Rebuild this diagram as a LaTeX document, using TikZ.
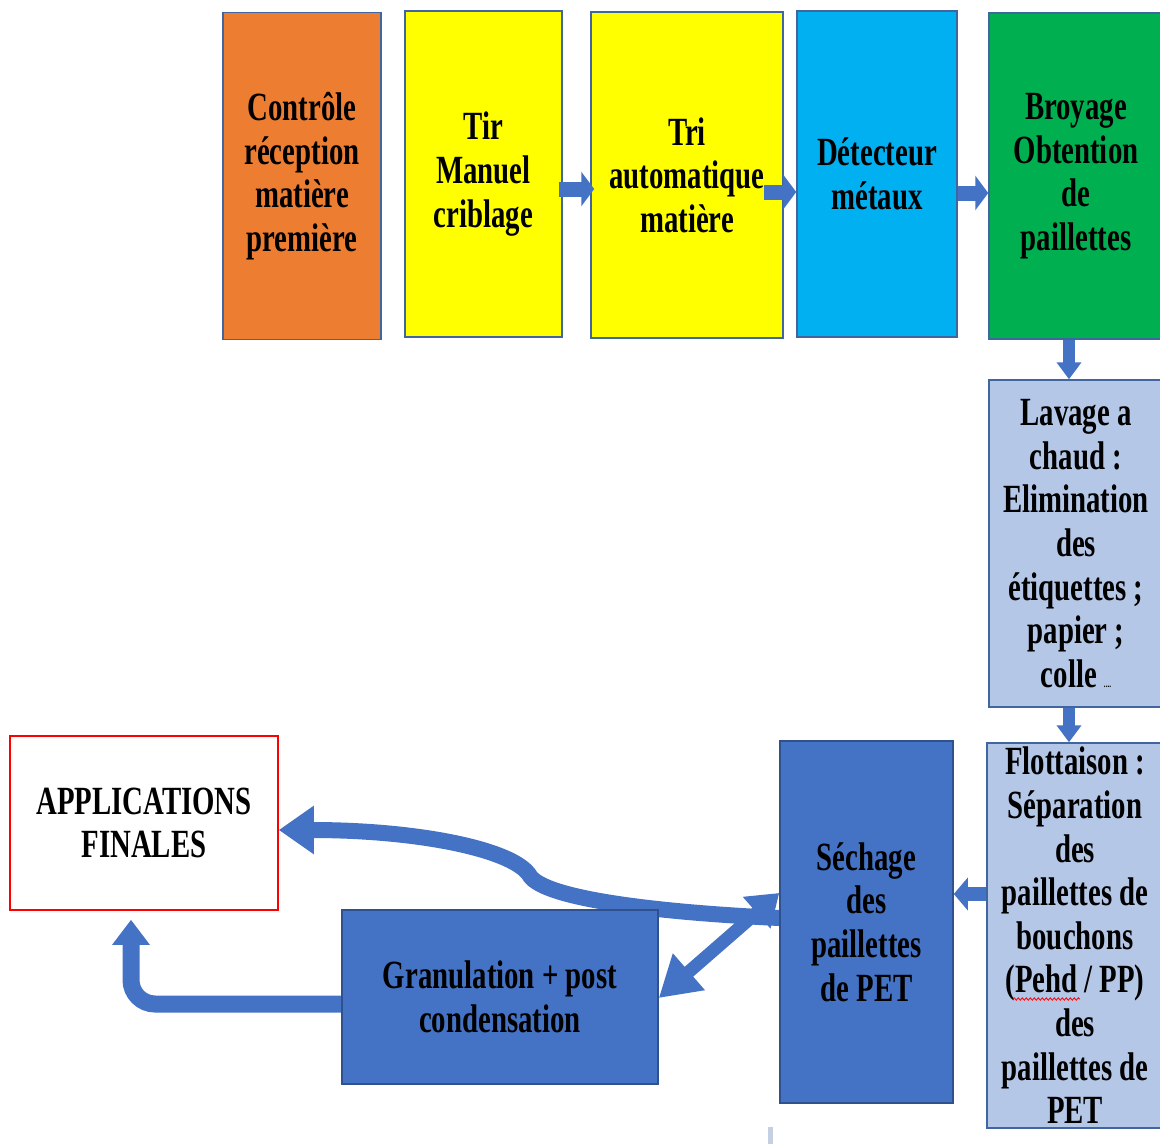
\documentclass[tikz,border=0pt]{standalone}
\usepackage{fontspec}
\setmainfont[FakeStretch=0.72]{Liberation Serif}
\usetikzlibrary{arrows.meta,decorations.pathmorphing,calc}
\pgfdeclarelayer{background}
\pgfsetlayers{background,main}
\definecolor{orangeA}{HTML}{ED7D31}
\definecolor{yellowA}{HTML}{FFFF00}
\definecolor{cyanA}{HTML}{00B0F0}
\definecolor{greenA}{HTML}{00B050}
\definecolor{lightA}{HTML}{B4C7E7}
\definecolor{blueA}{HTML}{4472C4}
\definecolor{boxline}{HTML}{41659F}
\definecolor{darkline}{HTML}{2F528F}
\definecolor{greyline}{HTML}{C5D0E3}
\begin{document}
\begin{tikzpicture}[x=1pt,y=-1pt,
  box/.style={draw=boxline, line width=1.5pt, inner sep=0pt, align=center,
    font=\bfseries\fontsize{40}{43.6}\selectfont, text=black},
  harrow/.style={draw=blueA, line width=15pt, -{Triangle[length=13pt,width=34pt]}},
  varrow/.style={draw=blueA, line width=12pt, -{Triangle[length=17pt,width=24pt]}},
  larrow/.style={draw=blueA, line width=14pt, -{Triangle[length=14pt,width=32pt]}},
  darrow/.style={draw=blueA, line width=13pt, {Triangle[length=30pt,width=40pt]}-{Triangle[length=40pt,width=46pt]}},
  carrow/.style={draw=blueA, line width=16pt, -{Triangle[length=35pt,width=46pt]}},
  earrow/.style={draw=blueA, line width=17pt, -{Triangle[length=25pt,width=36pt]}}]
\useasboundingbox (0,0) rectangle (1160,1144);

% top row
\node[box, fill=orangeA, minimum width=158pt, minimum height=327pt] (ctrl) at (302,176)
  {Contrôle\\réception\\matière\\première};
\node[box, fill=yellowA, minimum width=157pt, minimum height=326pt] (tir) at (483.5,174)
  {Tir\\Manuel\\criblage};
\node[box, fill=yellowA, minimum width=192pt, minimum height=326pt] (tri) at (687,175)
  {Tri\\automatique\\matière};
\node[box, fill=cyanA, minimum width=160pt, minimum height=326pt] (det) at (877,174)
  {Détecteur\\métaux};
\node[box, fill=greenA, minimum width=174pt, minimum height=326pt] (broy) at (1076,176)
  {Broyage\\Obtention\\de\\paillettes};

% right column
\node[box, fill=lightA, minimum width=174pt, minimum height=327pt] (lav) at (1076,543.5)
  {Lavage a\\chaud :\\Elimination\\des\\étiquettes ;\\papier ;\\colle {\fontsize{10}{10}\selectfont ....}};
\node[box, fill=lightA, minimum width=176pt, minimum height=385pt] (flot) at (1075,935.5)
  {Flottaison :\\Séparation\\des\\paillettes de\\bouchons\\(Pehd / PP)\\des\\paillettes de\\PET};

% bottom
\node[box, draw=darkline, fill=blueA, minimum width=173pt, minimum height=362pt] (sech) at (866.5,922)
  {Séchage\\des\\paillettes\\de PET};
\node[box, draw=darkline, fill=blueA, minimum width=316pt, minimum height=174pt] (gran) at (500,997)
  {Granulation + post\\condensation};
\node[box, draw=red, line width=1.5pt, fill=white, minimum width=268pt, minimum height=174pt] (app) at (144,823)
  {APPLICATIONS\\FINALES};

% spell-check underline
\draw[red, line width=0.8pt, decorate, decoration={snake, amplitude=1.2pt, segment length=4pt}]
  (1013,999) -- (1080,999);

% arrows between the top boxes (drawn over the boxes)
\draw[harrow] ($(tir.east |- 0,189)+(-4,0)$) -- ($(tri.west |- 0,189)+(4,0)$);
\draw[harrow] ($(tri.east |- 0,192)+(-20,0)$) -- (det.west |- 0,192);
\draw[harrow] (det.east |- 0,193) -- (broy.west |- 0,193);

\begin{pgfonlayer}{background}
\fill[white] (0,0) rectangle (1160,1144);
\draw[varrow] (broy.south -| 1069,0) -- (lav.north -| 1069,0);
\draw[varrow] (lav.south -| 1069,0) -- (flot.north -| 1069,0);
\draw[larrow] (flot.west |- 0,894) -- (sech.east |- 0,894);
\draw[darrow] (sech.west |- 0,893) -- (gran.east |- 0,998);
\draw[carrow] (sech.west |- 0,918) .. controls (650,912) and (545,898) .. (530,876)
  .. controls (515,850) and (420,830) .. (app.east |- 0,830);
\draw[earrow, rounded corners=24pt, shorten >=9pt] (gran.west |- 0,1004) -| (app.south -| 131,0);
\end{pgfonlayer}

\fill[greyline] (768,1127) rectangle (773,1144);
\end{tikzpicture}
\end{document}
